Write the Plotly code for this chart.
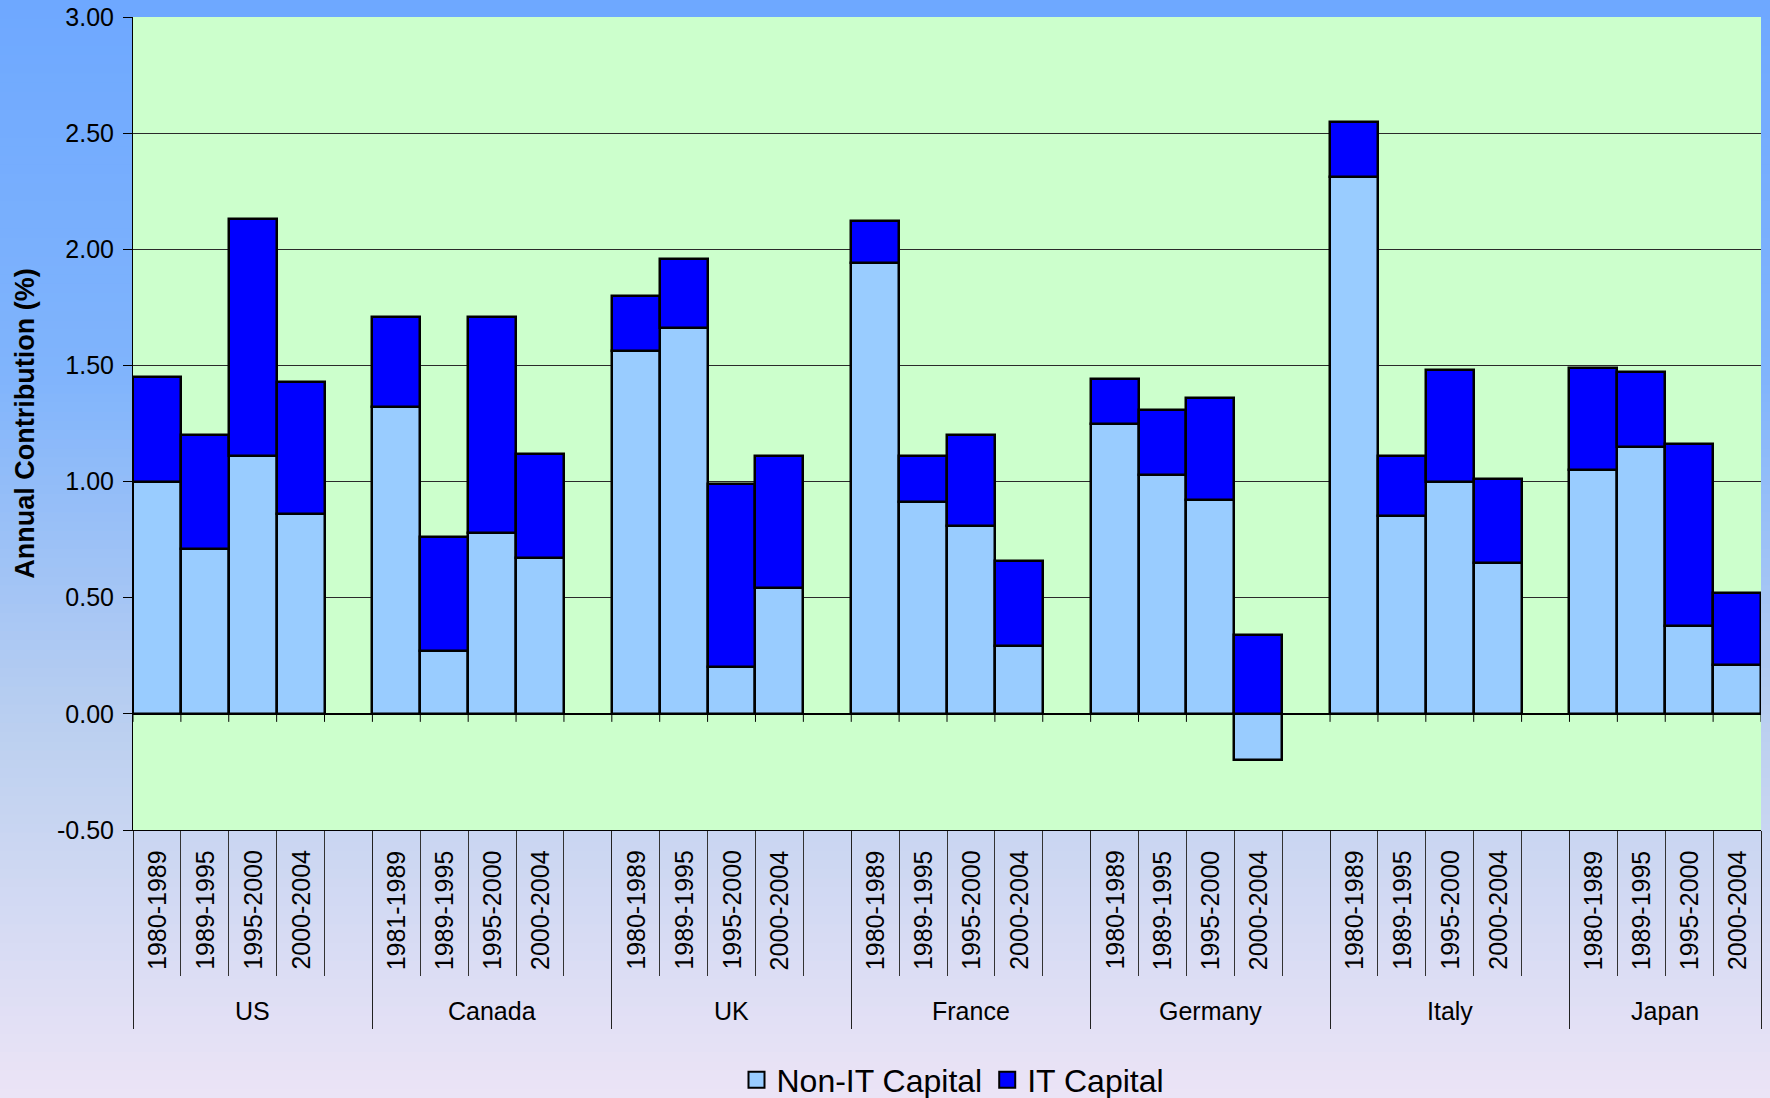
import plotly.graph_objects as go

# ---------------- data ----------------
countries = ["US", "Canada", "UK", "France", "Germany", "Italy", "Japan"]
periods = [
    ["1980-1989", "1989-1995", "1995-2000", "2000-2004"],  # US
    ["1981-1989", "1989-1995", "1995-2000", "2000-2004"],  # Canada
    ["1980-1989", "1989-1995", "1995-2000", "2000-2004"],  # UK
    ["1980-1989", "1989-1995", "1995-2000", "2000-2004"],  # France
    ["1980-1989", "1989-1995", "1995-2000", "2000-2004"],  # Germany
    ["1980-1989", "1989-1995", "1995-2000", "2000-2004"],  # Italy
    ["1980-1989", "1989-1995", "1995-2000", "2000-2004"],  # Japan
]
non_it_capital = [
    [1.00, 0.71, 1.11, 0.86],   # US
    [1.32, 0.27, 0.78, 0.67],   # Canada
    [1.56, 1.66, 0.20, 0.54],   # UK
    [1.94, 0.91, 0.81, 0.29],   # France
    [1.25, 1.03, 0.92, -0.20],  # Germany
    [2.31, 0.85, 1.00, 0.65],   # Italy
    [1.05, 1.15, 0.38, 0.21],   # Japan
]
it_capital = [
    [0.45, 0.49, 1.02, 0.57],   # US
    [0.39, 0.49, 0.93, 0.45],   # Canada
    [0.24, 0.30, 0.79, 0.57],   # UK
    [0.18, 0.20, 0.39, 0.37],   # France
    [0.19, 0.28, 0.44, 0.34],   # Germany
    [0.24, 0.26, 0.48, 0.36],   # Italy
    [0.44, 0.32, 0.78, 0.31],   # Japan
]
y_tick_vals = [-0.5, 0.0, 0.5, 1.0, 1.5, 2.0, 2.5, 3.0]
y_tick_text = ["-0.50", "0.00", "0.50", "1.00", "1.50", "2.00", "2.50", "3.00"]
series_names = ["Non-IT Capital", "IT Capital"]
y_title = "Annual Contribution (%)"

# ---------------- layout constants ----------------
W, H = 1770, 1098
ML, MR, MT, MB = 133, 9, 17, 268
PW, PH = W - ML - MR, H - MT - MB
SLOTS = 5  # four periods + one empty slot per country
FONT = "Liberation Sans, Arial, sans-serif"
C_NONIT = "#99CCFF"
C_IT = "#0000FF"

n_groups = len(countries)
x_pos, x_lab, y_non, y_it = [], [], [], []
for g in range(n_groups):
    for p in range(len(periods[g])):
        x_pos.append(g * SLOTS + p)
        x_lab.append(periods[g][p])
        y_non.append(non_it_capital[g][p])
        y_it.append(it_capital[g][p])

x_min = -0.5
x_max = (n_groups - 1) * SLOTS + len(periods[-1]) - 0.5

fig = go.Figure()
fig.add_trace(go.Bar(x=x_pos, y=y_non, name=series_names[0], width=1,
                     marker=dict(color=C_NONIT, line=dict(color="black", width=2.5)),
                     showlegend=False))
fig.add_trace(go.Bar(x=x_pos, y=y_it, name=series_names[1], width=1,
                     marker=dict(color=C_IT, line=dict(color="black", width=2.5)),
                     showlegend=False))
# legend entries
for nm, col in zip(series_names, [C_NONIT, C_IT]):
    fig.add_trace(go.Scatter(x=[None], y=[None], mode="markers", name=nm,
                             marker=dict(symbol="square", size=16, color=col,
                                         line=dict(color="black", width=2))))

# ---------------- background gradient ----------------
stops = [(0, (110, 168, 255)), (375, (128, 180, 252)), (735, (188, 208, 240)), (1098, (236, 228, 246))]
def col_at(py):
    for (a, ca), (b, cb) in zip(stops[:-1], stops[1:]):
        if a <= py <= b:
            t = (py - a) / (b - a)
            return "rgb(%d,%d,%d)" % tuple(round(ca[i] + (cb[i] - ca[i]) * t) for i in range(3))
    return "rgb(%d,%d,%d)" % stops[-1][1]

shapes = []
NB = 120
for i in range(NB):
    p0 = H * i / NB
    p1 = H * (i + 1) / NB + 1
    shapes.append(dict(type="rect", xref="paper", yref="paper", layer="below",
                       x0=-ML / PW - 0.01, x1=1 + MR / PW + 0.01,
                       y0=(H - MB - p1) / PH, y1=(H - MB - p0) / PH,
                       fillcolor=col_at((p0 + p1) / 2), line=dict(width=0)))
shapes.append(dict(type="rect", xref="x domain", yref="y domain", layer="below",
                   x0=0, x1=1, y0=0, y1=1, fillcolor="#CCFFCC", line=dict(width=0)))
# category-axis tick marks at zero line
for k in range(int(x_max - x_min) + 1):
    xb = x_min + k
    shapes.append(dict(type="line", xref="x", yref="y", ysizemode="pixel", yanchor=0,
                       x0=xb, x1=xb, y0=0, y1=-8, line=dict(color="black", width=1)))

# ---------------- annotations ----------------
ann = []
for xp, lab in zip(x_pos, x_lab):
    ann.append(dict(x=xp, y=0, xref="x", yref="paper", text=lab, showarrow=False,
                    textangle=-90, yanchor="top", xanchor="center", yshift=-18,
                    font=dict(family=FONT, size=25, color="black")))
group_edges = []
for g in range(n_groups):
    left = g * SLOTS - 0.5
    right = min(left + SLOTS, x_max)
    group_edges.append(left)
    ann.append(dict(x=(left + right) / 2, y=0, xref="x", yref="paper", text=countries[g],
                    showarrow=False, yanchor="middle", xanchor="center", yshift=-181,
                    font=dict(family=FONT, size=25, color="black")))
group_edges.append(x_max)
inner_edges = [g * SLOTS + p + 0.5 for g in range(n_groups) for p in range(len(periods[g]))
               if g * SLOTS + p + 0.5 not in group_edges]

fig.update_layout(
    width=W, height=H,
    margin=dict(l=ML, r=MR, t=MT, b=MB, autoexpand=False),
    paper_bgcolor="rgb(200,212,240)",
    plot_bgcolor="rgba(0,0,0,0)",
    barmode="relative", bargap=0,
    font=dict(family=FONT, color="black"),
    shapes=shapes, annotations=ann,
    showlegend=True,
    legend=dict(orientation="h", x=(953 - ML) / PW, xanchor="center",
                y=-(1080 - (H - MB)) / PH, yanchor="middle",
                font=dict(family=FONT, size=32, color="black"),
                bgcolor="rgba(0,0,0,0)", itemwidth=30),
    xaxis=dict(range=[x_min, x_max], showgrid=False, zeroline=False,
               showline=True, linecolor="black", linewidth=1,
               showticklabels=False,
               tickmode="array", tickvals=group_edges, ticks="outside",
               ticklen=198, tickwidth=1, tickcolor="#222",
               minor=dict(tickmode="array", tickvals=inner_edges, ticks="outside",
                          ticklen=145, tickwidth=1, tickcolor="#333"),
               automargin=False),
    yaxis=dict(range=[-0.5, 3.0], tickmode="array", tickvals=y_tick_vals, ticktext=y_tick_text,
               showgrid=True, gridcolor="#2a2a2a", gridwidth=1,
               zeroline=True, zerolinecolor="black", zerolinewidth=1.5,
               showline=True, linecolor="black", linewidth=1,
               ticks="outside", ticklen=9, tickcolor="black", ticklabelstandoff=4,
               tickfont=dict(family=FONT, size=25, color="black"),
               title=dict(text="<b>" + y_title + "</b>", standoff=14,
                          font=dict(family=FONT, size=27, color="black")),
               automargin=False),
)

fig.write_html("out.html",
               config={"displayModeBar": False},
               post_script="document.body.style.margin='0';document.body.style.padding='0';"
                           "document.body.style.overflow='hidden';")
